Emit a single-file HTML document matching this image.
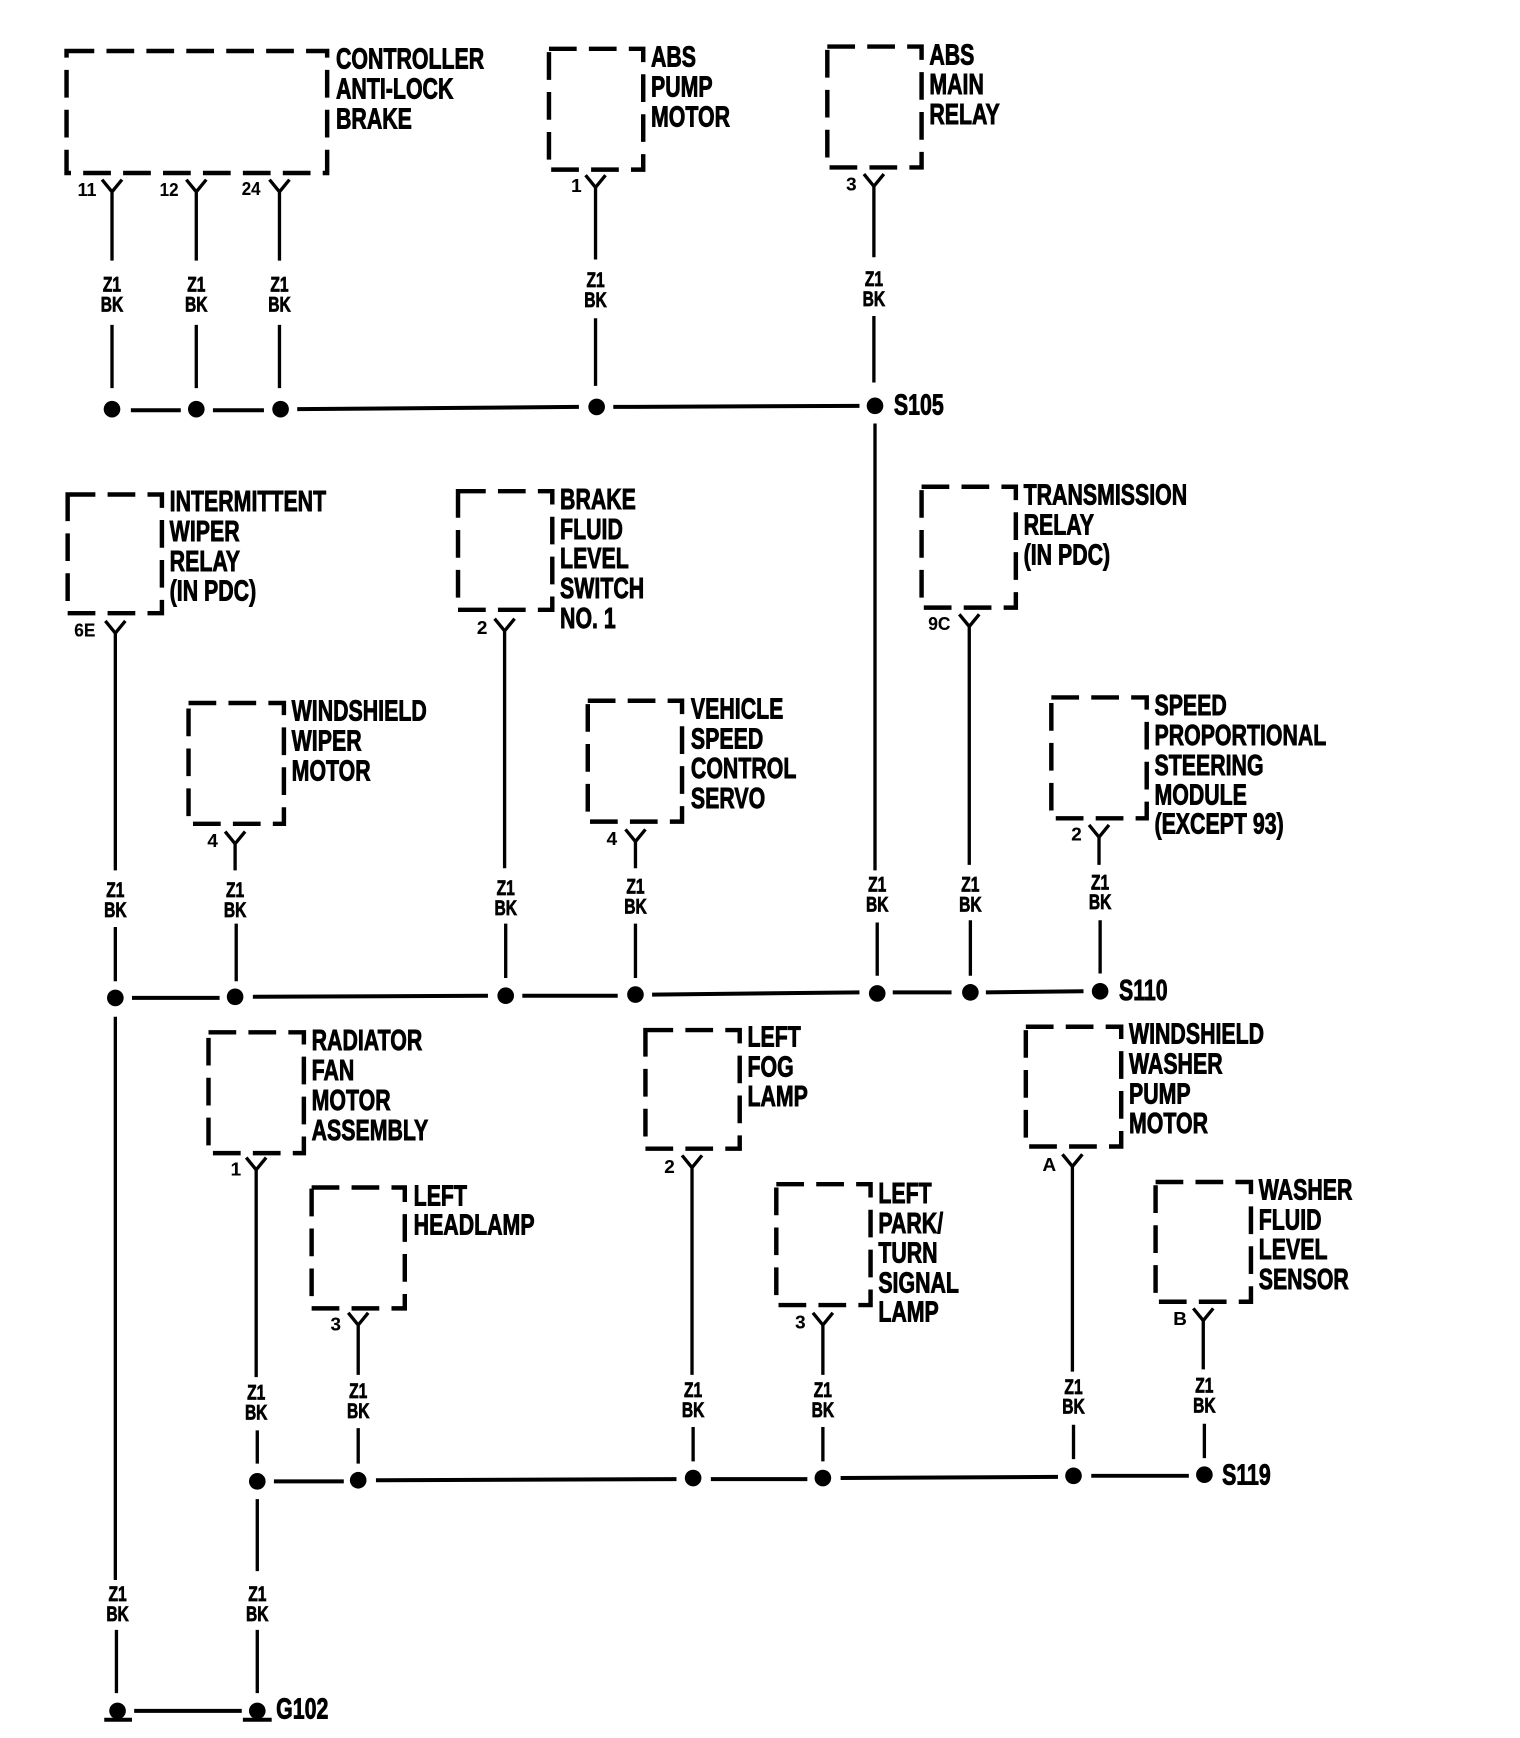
<!DOCTYPE html>
<html><head><meta charset="utf-8"><style>
html,body{margin:0;padding:0;background:#fff}
svg{display:block}
text{font-family:"Liberation Sans",sans-serif;font-weight:bold;fill:#000;stroke:#000;stroke-width:.8}
.l{font-size:26px}
.s{font-size:19.5px;text-anchor:middle;stroke-width:.7}
.p{font-size:17px;stroke-width:.1}
.b rect{fill:none;stroke:#000;stroke-width:4;stroke-dasharray:25 11}
.w path{fill:none;stroke:#000;stroke-width:3}
.u path{fill:none;stroke:#000;stroke-width:3.6}
</style></head><body>
<svg width="1520" height="1738" viewBox="0 0 1520 1738" xmlns="http://www.w3.org/2000/svg">
<rect width="1520" height="1738" fill="#fff"/>
<g transform="scale(1.109 1.1088)">
<g class="b">
<rect x="60" y="46" width="235" height="110"/>
<rect x="495" y="44" width="85" height="109"/>
<rect x="746" y="42" width="85" height="109"/>
<rect x="61" y="446" width="85" height="107"/>
<rect x="413" y="443" width="85" height="107"/>
<rect x="831" y="439" width="85" height="109"/>
<rect x="170" y="634" width="86" height="109"/>
<rect x="530" y="632" width="85" height="109"/>
<rect x="948" y="629" width="86" height="109"/>
<rect x="188" y="931" width="86" height="109"/>
<rect x="582" y="929" width="85" height="107"/>
<rect x="925" y="926" width="86" height="108"/>
<rect x="281" y="1071" width="84" height="109"/>
<rect x="700" y="1068" width="85" height="109"/>
<rect x="1042" y="1066" width="86" height="108"/>
</g>
<g class="w">
<path d="M92 162L101 173L110 162M101 173V235M101 293V350"/>
<path d="M168 162L177 173L186 162M177 173V235M177 293V350"/>
<path d="M243 162L252 173L261 162M252 173V235M252 293V350"/>
<path d="M528 158L537 169L546 158M537 169V234M537 287V348"/>
<path d="M779 157L788 168L797 157M788 168V232M788 285V345M789 382V785M791 832V880"/>
<path d="M95 560L104 571L113 560M104 571V785M104 836V885M104 917V1425M105 1470V1527"/>
<path d="M203 750L212 761L221 750M212 761V785M213 833V885"/>
<path d="M446 558L455 569L464 558M455 569V783M456 833V882"/>
<path d="M564 748L573 759L582 748M573 759V783M573 833V882"/>
<path d="M865 554L874 565L883 554M874 565V780M875 830V880"/>
<path d="M982 744L991 755L1000 744M991 755V780M992 830V878"/>
<path d="M222 1044L231 1055L240 1044M231 1055V1242M232 1290V1320M232 1352V1417M232 1470V1527"/>
<path d="M314 1184L323 1195L332 1184M323 1195V1240M323 1288V1320"/>
<path d="M615 1042L624 1053L633 1042M624 1053V1240M625 1287V1318"/>
<path d="M733 1184L742 1195L751 1184M742 1195V1240M742 1287V1318"/>
<path d="M958 1041L967 1052L976 1041M967 1052V1237M968 1285V1316"/>
<path d="M1076 1180L1085 1191L1094 1180M1085 1191V1235M1086 1284V1315"/>
</g>
<g class="u">
<path d="M118 370H163M192 370H238M268 369L522 367M553 367L775 366"/>
<path d="M119 900H198M228 899L440 898M471 898H557M588 897L775 895M805 895H858M889 895L977 894"/>
<path d="M247 1336H310M339 1335L610 1334M641 1334H728M758 1333L954 1332M984 1331H1072"/>
<path d="M121 1543H218"/>
<path d="M94 1551H119M219 1551H245" stroke-width="4"/>
</g>
<g fill="#000">
<circle cx="101" cy="369" r="7.5"/><circle cx="177" cy="369" r="7.5"/><circle cx="253" cy="369" r="7.5"/><circle cx="538" cy="367" r="7.5"/><circle cx="789" cy="366" r="7.5"/>
<circle cx="104" cy="900" r="7.5"/><circle cx="212" cy="899" r="7.5"/><circle cx="456" cy="898" r="7.5"/><circle cx="573" cy="897" r="7.5"/><circle cx="791" cy="896" r="7.5"/><circle cx="875" cy="895" r="7.5"/><circle cx="992" cy="894" r="7.5"/>
<circle cx="232" cy="1336" r="7.5"/><circle cx="323" cy="1335" r="7.5"/><circle cx="625" cy="1333" r="7.5"/><circle cx="742" cy="1333" r="7.5"/><circle cx="968" cy="1331" r="7.5"/><circle cx="1086" cy="1330" r="7.5"/>
<circle cx="106" cy="1543" r="7.5"/><circle cx="232" cy="1543" r="7.5"/>
</g>
<!-- main labels -->
<g transform="translate(303 62) scale(.74 1)"><text class="l">CONTROLLER<tspan x="0" dy="27">ANTI-LOCK</tspan><tspan x="0" dy="27">BRAKE</tspan></text></g>
<g transform="translate(587 60) scale(.74 1)"><text class="l">ABS<tspan x="0" dy="27">PUMP</tspan><tspan x="0" dy="27">MOTOR</tspan></text></g>
<g transform="translate(838 58) scale(.74 1)"><text class="l">ABS<tspan x="0" dy="27">MAIN</tspan><tspan x="0" dy="27">RELAY</tspan></text></g>
<g transform="translate(153 461) scale(.74 1)"><text class="l">INTERMITTENT<tspan x="0" dy="27">WIPER</tspan><tspan x="0" dy="27">RELAY</tspan><tspan x="0" dy="26.5">(IN PDC)</tspan></text></g>
<g transform="translate(505 459) scale(.74 1)"><text class="l">BRAKE<tspan x="0" dy="27">FLUID</tspan><tspan x="0" dy="26.5">LEVEL</tspan><tspan x="0" dy="27">SWITCH</tspan><tspan x="0" dy="27">NO. 1</tspan></text></g>
<g transform="translate(923 455) scale(.74 1)"><text class="l">TRANSMISSION<tspan x="0" dy="27">RELAY</tspan><tspan x="0" dy="27">(IN PDC)</tspan></text></g>
<g transform="translate(263 650) scale(.74 1)"><text class="l">WINDSHIELD<tspan x="0" dy="27">WIPER</tspan><tspan x="0" dy="27">MOTOR</tspan></text></g>
<g transform="translate(623 648) scale(.74 1)"><text class="l">VEHICLE<tspan x="0" dy="27">SPEED</tspan><tspan x="0" dy="26.5">CONTROL</tspan><tspan x="0" dy="27">SERVO</tspan></text></g>
<g transform="translate(1041 645) scale(.74 1)"><text class="l">SPEED<tspan x="0" dy="27">PROPORTIONAL</tspan><tspan x="0" dy="27">STEERING</tspan><tspan x="0" dy="26.5">MODULE</tspan><tspan x="0" dy="26">(EXCEPT 93)</tspan></text></g>
<g transform="translate(281 947) scale(.74 1)"><text class="l">RADIATOR<tspan x="0" dy="27">FAN</tspan><tspan x="0" dy="27">MOTOR</tspan><tspan x="0" dy="27">ASSEMBLY</tspan></text></g>
<g transform="translate(674 944) scale(.74 1)"><text class="l">LEFT<tspan x="0" dy="27">FOG</tspan><tspan x="0" dy="26.5">LAMP</tspan></text></g>
<g transform="translate(1018 941) scale(.74 1)"><text class="l">WINDSHIELD<tspan x="0" dy="27">WASHER</tspan><tspan x="0" dy="27">PUMP</tspan><tspan x="0" dy="27">MOTOR</tspan></text></g>
<g transform="translate(373 1087) scale(.74 1)"><text class="l">LEFT<tspan x="0" dy="26.5">HEADLAMP</tspan></text></g>
<g transform="translate(792 1085) scale(.74 1)"><text class="l">LEFT<tspan x="0" dy="27">PARK/</tspan><tspan x="0" dy="26.5">TURN</tspan><tspan x="0" dy="27">SIGNAL</tspan><tspan x="0" dy="26.5">LAMP</tspan></text></g>
<g transform="translate(1135 1082) scale(.74 1)"><text class="l">WASHER<tspan x="0" dy="27">FLUID</tspan><tspan x="0" dy="26.5">LEVEL</tspan><tspan x="0" dy="27">SENSOR</tspan></text></g>
<g transform="translate(806 374) scale(.74 1)"><text class="l">S105</text></g>
<g transform="translate(1009 902) scale(.74 1)"><text class="l">S110</text></g>
<g transform="translate(1102 1339) scale(.74 1)"><text class="l">S119</text></g>
<g transform="translate(249 1550) scale(.74 1)"><text class="l">G102</text></g>
<!-- wire codes -->
<g transform="translate(101 263) scale(.72 1)"><text class="s">Z1<tspan x="0" dy="18">BK</tspan></text></g>
<g transform="translate(177 263) scale(.72 1)"><text class="s">Z1<tspan x="0" dy="18">BK</tspan></text></g>
<g transform="translate(252 263) scale(.72 1)"><text class="s">Z1<tspan x="0" dy="18">BK</tspan></text></g>
<g transform="translate(537 259) scale(.72 1)"><text class="s">Z1<tspan x="0" dy="18">BK</tspan></text></g>
<g transform="translate(788 258) scale(.72 1)"><text class="s">Z1<tspan x="0" dy="18">BK</tspan></text></g>
<g transform="translate(104 809) scale(.72 1)"><text class="s">Z1<tspan x="0" dy="18">BK</tspan></text></g>
<g transform="translate(212 809) scale(.72 1)"><text class="s">Z1<tspan x="0" dy="18">BK</tspan></text></g>
<g transform="translate(456 807) scale(.72 1)"><text class="s">Z1<tspan x="0" dy="18">BK</tspan></text></g>
<g transform="translate(573 806) scale(.72 1)"><text class="s">Z1<tspan x="0" dy="18">BK</tspan></text></g>
<g transform="translate(791 804) scale(.72 1)"><text class="s">Z1<tspan x="0" dy="18">BK</tspan></text></g>
<g transform="translate(875 804) scale(.72 1)"><text class="s">Z1<tspan x="0" dy="18">BK</tspan></text></g>
<g transform="translate(992 802) scale(.72 1)"><text class="s">Z1<tspan x="0" dy="18">BK</tspan></text></g>
<g transform="translate(231 1262) scale(.72 1)"><text class="s">Z1<tspan x="0" dy="18">BK</tspan></text></g>
<g transform="translate(323 1261) scale(.72 1)"><text class="s">Z1<tspan x="0" dy="18">BK</tspan></text></g>
<g transform="translate(625 1260) scale(.72 1)"><text class="s">Z1<tspan x="0" dy="18">BK</tspan></text></g>
<g transform="translate(742 1260) scale(.72 1)"><text class="s">Z1<tspan x="0" dy="18">BK</tspan></text></g>
<g transform="translate(968 1257) scale(.72 1)"><text class="s">Z1<tspan x="0" dy="18">BK</tspan></text></g>
<g transform="translate(1086 1256) scale(.72 1)"><text class="s">Z1<tspan x="0" dy="18">BK</tspan></text></g>
<g transform="translate(106 1444) scale(.72 1)"><text class="s">Z1<tspan x="0" dy="18">BK</tspan></text></g>
<g transform="translate(232 1444) scale(.72 1)"><text class="s">Z1<tspan x="0" dy="18">BK</tspan></text></g>
<!-- pins -->
<g class="pins">
<text class="p" x="70" y="177" textLength="17" lengthAdjust="spacingAndGlyphs">11</text><text class="p" x="144" y="177" textLength="17" lengthAdjust="spacingAndGlyphs">12</text><text class="p" x="218" y="176" textLength="17" lengthAdjust="spacingAndGlyphs">24</text>
<text class="p" x="515" y="173">1</text><text class="p" x="763" y="172">3</text>
<text class="p" x="67" y="574" textLength="19" lengthAdjust="spacingAndGlyphs">6E</text><text class="p" x="430" y="572">2</text><text class="p" x="837" y="568" textLength="20" lengthAdjust="spacingAndGlyphs">9C</text>
<text class="p" x="187" y="764">4</text><text class="p" x="547" y="762">4</text><text class="p" x="966" y="758">2</text>
<text class="p" x="208" y="1060">1</text><text class="p" x="599" y="1058">2</text><text class="p" x="940" y="1056">A</text>
<text class="p" x="298" y="1200">3</text><text class="p" x="717" y="1198">3</text><text class="p" x="1058" y="1195">B</text>
</g>
</g>
</svg>
</body></html>
